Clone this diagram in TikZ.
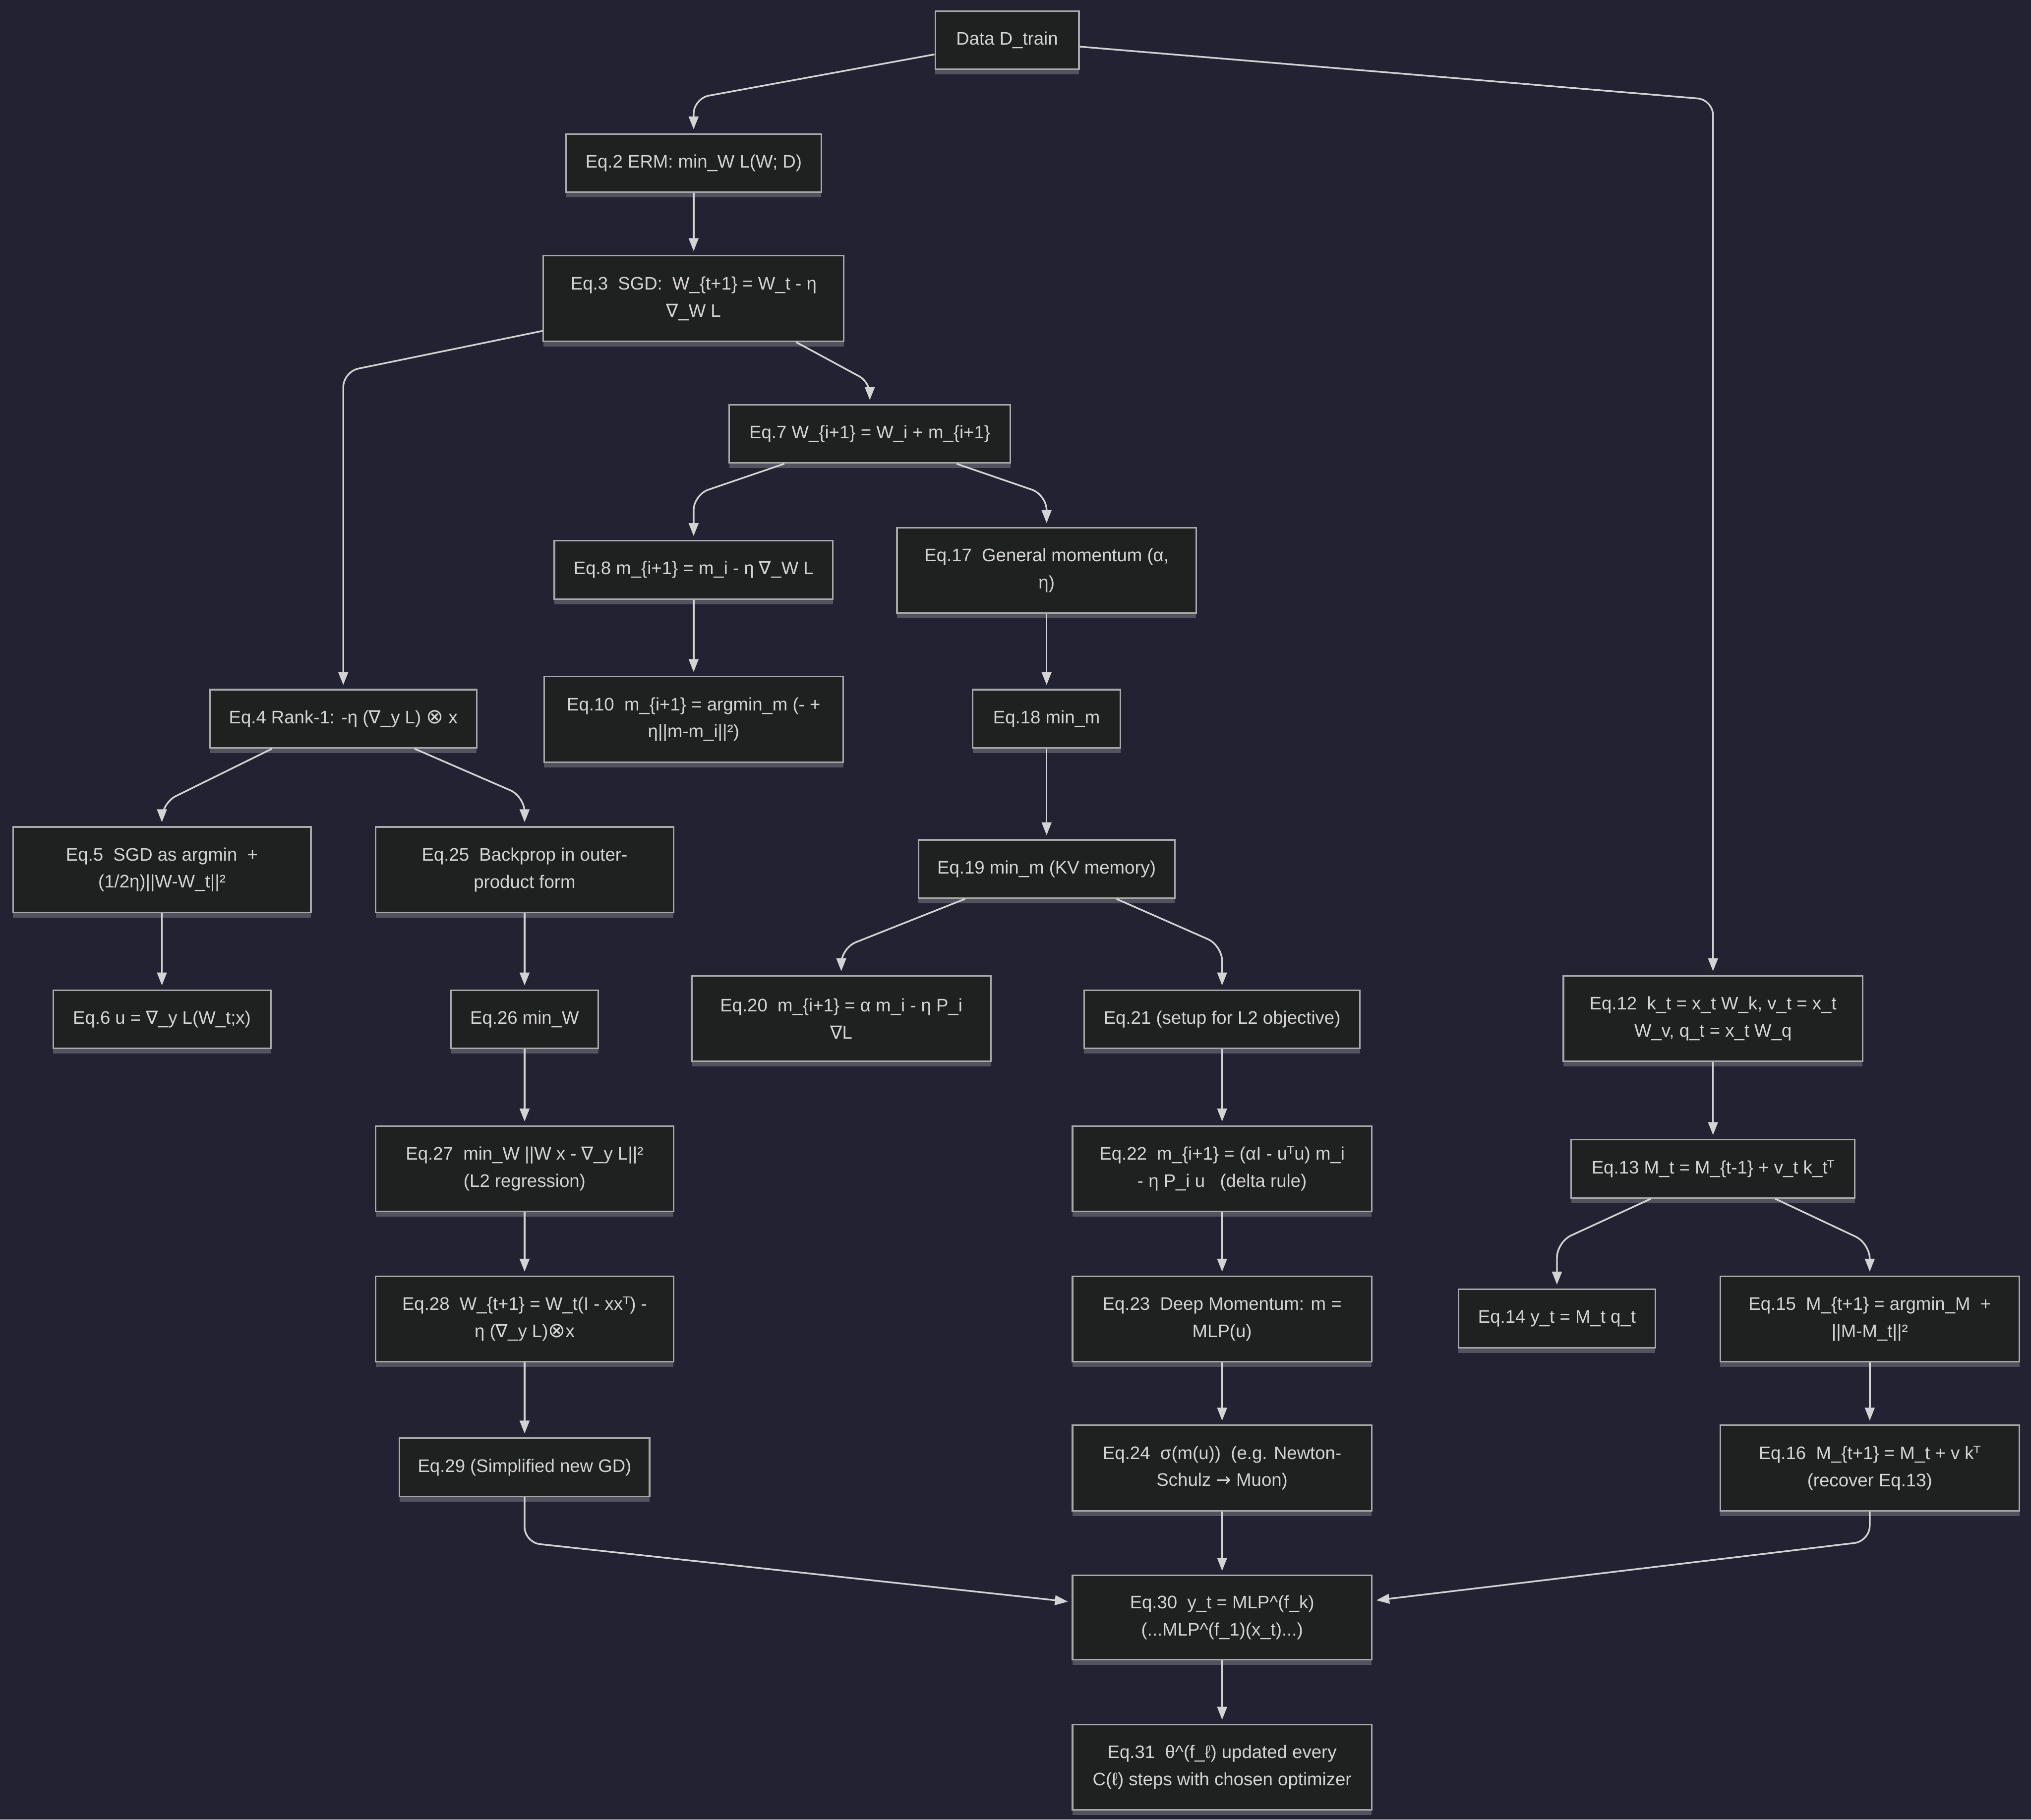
\documentclass[tikz,border=0pt]{standalone}
\usepackage{fontspec}
\setmainfont{Liberation Sans}
\newfontfamily\symf{DejaVu Sans}
\usetikzlibrary{arrows.meta,shadows}
\definecolor{bg}{HTML}{232232}
\definecolor{boxfill}{HTML}{1F2120}
\definecolor{boxline}{HTML}{A8A8A8}
\definecolor{txt}{HTML}{D4D4D4}
\definecolor{edgec}{HTML}{D3D3D3}
\newcommand{\nab}{{\symf ∇}}
\newcommand{\otim}{{\symf\fontsize{16}{21}\selectfont ⊗}}
\newcommand{\tp}{{\symf ᵀ}}
\newcommand{\rarr}{{\symf →}}
\begin{document}
\begin{tikzpicture}[x=1pt,y=-1pt,
  eqbox/.style={draw=boxline, line width=1.2pt, fill=boxfill, text=txt,
    font=\fontsize{14}{21}\selectfont, align=center, inner sep=0pt,
    general shadow={shadow yshift=-4pt, fill=white, opacity=0.22}},
  edge/.style={draw=edgec, line width=1.3pt, -{Triangle[length=10pt,width=7.5pt]},
    shorten >=3pt, rounded corners=12pt}]
\fill[bg] (0,0) rectangle (1568,1405);
\useasboundingbox (0,0) rectangle (1568,1405);

\node[eqbox,minimum width=111pt,minimum height=45pt] (data) at (777.5,31) {Data D\_train};
\node[eqbox,minimum width=197pt,minimum height=45pt] (eq2) at (535.5,126) {Eq.2 ERM: min\_W L(W; D)};
\node[eqbox,minimum width=232pt,minimum height=66pt] (eq3) at (535.5,230.5) {Eq.3~ SGD:~ W\_\{t+1\} = W\_t - η\\ \nab\_W L};
\node[eqbox,minimum width=217pt,minimum height=45pt] (eq7) at (671.5,335) {Eq.7 W\_\{i+1\} = W\_i + m\_\{i+1\}};
\node[eqbox,minimum width=215pt,minimum height=45pt] (eq8) at (535.5,440) {Eq.8 m\_\{i+1\} = m\_i - η \nab\_W L};
\node[eqbox,minimum width=231pt,minimum height=66pt] (eq17) at (808,440.5) {Eq.17~ General momentum (α,\\ η)};
\node[eqbox,minimum width=231pt,minimum height=66pt] (eq10) at (535.5,555.5) {Eq.10~ m\_\{i+1\} = argmin\_m (- +\\ η||m-m\_i||²)};
\node[eqbox,minimum width=114pt,minimum height=45pt] (eq18) at (808,555) {Eq.18 min\_m};
\node[eqbox,minimum width=206pt,minimum height=45pt] (eq4) at (265,555) {Eq.4 Rank-1: -η (\nab\_y L) \otim\ x};
\node[eqbox,minimum width=230pt,minimum height=66pt] (eq5) at (125,671.5) {Eq.5~ SGD as argmin~ +\\ (1/2η)||W-W\_t||²};
\node[eqbox,minimum width=230pt,minimum height=66pt] (eq25) at (405,671.5) {Eq.25~ Backprop in outer-\\ product form};
\node[eqbox,minimum width=198pt,minimum height=45pt] (eq19) at (808,671) {Eq.19 min\_m (KV memory)};
\node[eqbox,minimum width=168pt,minimum height=45pt] (eq6) at (125,787) {Eq.6 u = \nab\_y L(W\_t;x)};
\node[eqbox,minimum width=114pt,minimum height=45pt] (eq26) at (405,787) {Eq.26 min\_W};
\node[eqbox,minimum width=231pt,minimum height=66pt] (eq20) at (649.5,786.5) {Eq.20~ m\_\{i+1\} = α m\_i - η P\_i\\ \nab L};
\node[eqbox,minimum width=213pt,minimum height=45pt] (eq21) at (943.5,787) {Eq.21 (setup for L2 objective)};
\node[eqbox,minimum width=231pt,minimum height=66pt] (eq12) at (1322.5,786.5) {Eq.12~ k\_t = x\_t W\_k, v\_t = x\_t\\ W\_v, q\_t = x\_t W\_q};
\node[eqbox,minimum width=230pt,minimum height=66pt] (eq27) at (405,902.5) {Eq.27~ min\_W ||W x - \nab\_y L||²\\ (L2 regression)};
\node[eqbox,minimum width=231pt,minimum height=66pt] (eq22) at (943.5,902.5) {Eq.22~ m\_\{i+1\} = (αI - u\tp u) m\_i\\ - η P\_i u~~ (delta rule)};
\node[eqbox,minimum width=219pt,minimum height=45pt] (eq13) at (1322.5,902.5) {Eq.13 M\_t = M\_\{t-1\} + v\_t k\_t\tp};
\node[eqbox,minimum width=230pt,minimum height=66pt] (eq28) at (405,1018.5) {Eq.28~ W\_\{t+1\} = W\_t(I - xx\tp) -\\ η (\nab\_y L)\otim x};
\node[eqbox,minimum width=231pt,minimum height=66pt] (eq23) at (943.5,1018.5) {Eq.23~ Deep Momentum: m =\\ MLP(u)};
\node[eqbox,minimum width=152pt,minimum height=45pt] (eq14) at (1202,1018) {Eq.14 y\_t = M\_t q\_t};
\node[eqbox,minimum width=231pt,minimum height=66pt] (eq15) at (1443.5,1018.5) {Eq.15~ M\_\{t+1\} = argmin\_M~ +\\ ||M-M\_t||²};
\node[eqbox,minimum width=193pt,minimum height=45pt] (eq29) at (405,1133) {Eq.29 (Simplified new GD)};
\node[eqbox,minimum width=231pt,minimum height=66pt] (eq24) at (943.5,1133.5) {Eq.24~ σ(m(u))~ (e.g. Newton-\\ Schulz \rarr\ Muon)};
\node[eqbox,minimum width=231pt,minimum height=66pt] (eq16) at (1443.5,1133.5) {Eq.16~ M\_\{t+1\} = M\_t + v k\tp\\ (recover Eq.13)};
\node[eqbox,minimum width=231pt,minimum height=65pt] (eq30) at (943.5,1249) {Eq.30~ y\_t = MLP\textasciicircum(f\_k)\\ (...MLP\textasciicircum(f\_1)(x\_t)...)};
\node[eqbox,minimum width=231pt,minimum height=66pt] (eq31) at (943.5,1364.5) {Eq.31~ θ\textasciicircum(f\_ℓ) updated every\\ C(ℓ) steps with chosen optimizer};

% connectors
\draw[edge] ([yshift=-11pt]data.west) -- (eq2.north |- 0,76) -- (eq2.north);
\draw[edge] ([yshift=-5pt]data.east) -- (eq12.north |- 0,77) -- (eq12.north);
\draw[edge] (eq2) -- (eq3);
\draw[edge] ([yshift=-25pt]eq3.west) -- (eq4.north |- 0,287) -- (eq4.north);
\draw[edge,rounded corners=9pt] ([xshift=79pt]eq3.south) -- (eq7.north |- 0,295) -- (eq7.north);
\draw[edge] ([xshift=-66pt]eq7.south) -- (eq8.north |- 0,382) -- (eq8.north);
\draw[edge] ([xshift=67pt]eq7.south) -- (eq17.north |- 0,382) -- (eq17.north);
\draw[edge] (eq8) -- (eq10);
\draw[edge] (eq17) -- (eq18);
\draw[edge] (eq18) -- (eq19);
\draw[edge] ([xshift=-55pt]eq4.south) -- (eq5.north |- 0,620) -- (eq5.north);
\draw[edge] ([xshift=55pt]eq4.south) -- (eq25.north |- 0,615) -- (eq25.north);
\draw[edge] (eq5) -- (eq6);
\draw[edge] (eq25) -- (eq26);
\draw[edge] (eq26) -- (eq27);
\draw[edge] (eq27) -- (eq28);
\draw[edge] (eq28) -- (eq29);
\draw[edge] ([xshift=-63pt]eq19.south) -- (eq20.north |- 0,732) -- (eq20.north);
\draw[edge] ([xshift=54pt]eq19.south) -- (eq21.north |- 0,730) -- (eq21.north);
\draw[edge] (eq21) -- (eq22);
\draw[edge] (eq22) -- (eq23);
\draw[edge] (eq23) -- (eq24);
\draw[edge] (eq24) -- (eq30);
\draw[edge] (eq30) -- (eq31);
\draw[edge] (eq12) -- (eq13);
\draw[edge] ([xshift=-48pt]eq13.south) -- (eq14.north |- 0,959) -- (eq14.north);
\draw[edge] ([xshift=48pt]eq13.south) -- (eq15.north |- 0,960) -- (eq15.north);
\draw[edge] (eq15) -- (eq16);
\draw[edge] (eq29.south) -- (eq29.south |- 0,1191) -- ([yshift=12pt]eq30.west);
\draw[edge] (eq16.south) -- (eq16.south |- 0,1190) -- ([yshift=13pt]eq30.east);
\end{tikzpicture}
\end{document}
